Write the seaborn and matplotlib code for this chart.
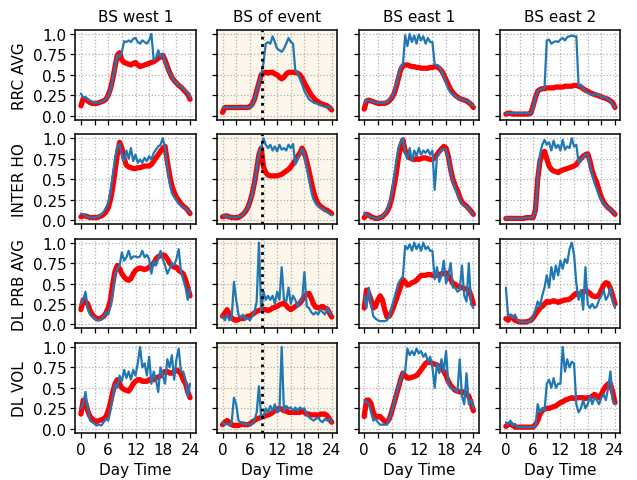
import matplotlib
matplotlib.use("Agg")
import matplotlib.pyplot as plt
import seaborn as sns
import pandas as pd

# time of day (hours), sampled every 30 min
hours = [0, 0.5, 1, 1.5, 2, 2.5, 3, 3.5, 4, 4.5, 5, 5.5,
         6, 6.5, 7, 7.5, 8, 8.5, 9, 9.5, 10, 10.5, 11, 11.5,
         12, 12.5, 13, 13.5, 14, 14.5, 15, 15.5, 16, 16.5, 17, 17.5,
         18, 18.5, 19, 19.5, 20, 20.5, 21, 21.5, 22, 22.5, 23, 23.5, 24]

stations = ["BS west 1", "BS of event", "BS east 1", "BS east 2"]
metrics = ["RRC AVG", "INTER HO", "DL PRB AVG", "DL VOL"]
event_hour = 8.6

# ---- RRC AVG ----
rrc_west1_ref = [0.12, 0.21, 0.2, 0.18, 0.16, 0.15, 0.15, 0.15, 0.16, 0.17, 0.18, 0.2,
                 0.25, 0.33, 0.45, 0.6, 0.74, 0.77, 0.68, 0.65, 0.64, 0.63, 0.62, 0.64,
                 0.65, 0.62, 0.6, 0.61, 0.62, 0.63, 0.64, 0.65, 0.66, 0.68, 0.7, 0.72,
                 0.74, 0.68, 0.6, 0.53, 0.47, 0.43, 0.4, 0.37, 0.35, 0.32, 0.29, 0.26, 0.2]
rrc_west1_obs = [0.27, 0.22, 0.23, 0.2, 0.18, 0.17, 0.16, 0.16, 0.16, 0.17, 0.18, 0.2,
                 0.24, 0.32, 0.45, 0.6, 0.74, 0.72, 0.78, 0.91, 0.9, 0.92, 0.9, 0.94,
                 0.95, 0.9, 0.88, 0.92, 0.9, 0.88, 0.92, 1.0, 0.68, 0.7, 0.8, 0.72,
                 0.75, 0.66, 0.58, 0.52, 0.48, 0.43, 0.4, 0.37, 0.36, 0.33, 0.3, 0.28, 0.22]
rrc_event_ref = [0.04, 0.1, 0.1, 0.1, 0.1, 0.1, 0.1, 0.1, 0.1, 0.1, 0.1, 0.1,
                 0.11, 0.14, 0.2, 0.3, 0.4, 0.5, 0.52, 0.53, 0.52, 0.53, 0.53, 0.51,
                 0.5, 0.47, 0.45, 0.47, 0.51, 0.53, 0.53, 0.53, 0.53, 0.52, 0.5, 0.46,
                 0.4, 0.35, 0.3, 0.25, 0.22, 0.19, 0.17, 0.15, 0.14, 0.13, 0.12, 0.1, 0.07]
rrc_event_obs = [0.1, 0.1, 0.1, 0.1, 0.1, 0.1, 0.1, 0.1, 0.1, 0.1, 0.1, 0.1,
                 0.1, 0.12, 0.2, 0.3, 0.4, 0.5, 0.65, 0.88, 0.9, 0.88, 0.97, 0.9,
                 0.82, 0.8, 0.78, 0.82, 0.88, 0.95, 0.9, 0.88, 0.55, 0.52, 0.45, 0.38,
                 0.3, 0.25, 0.2, 0.18, 0.16, 0.15, 0.14, 0.13, 0.12, 0.11, 0.11, 0.1, 0.09]
rrc_east1_ref = [0.08, 0.18, 0.19, 0.18, 0.17, 0.16, 0.15, 0.15, 0.15, 0.15, 0.16, 0.18,
                 0.21, 0.26, 0.34, 0.45, 0.56, 0.61, 0.62, 0.62, 0.61, 0.6, 0.6, 0.59,
                 0.59, 0.58, 0.58, 0.58, 0.58, 0.59, 0.59, 0.6, 0.6, 0.58, 0.55, 0.5,
                 0.44, 0.38, 0.32, 0.28, 0.25, 0.23, 0.21, 0.2, 0.19, 0.18, 0.16, 0.14, 0.1]
rrc_east1_obs = [0.15, 0.19, 0.19, 0.18, 0.17, 0.16, 0.16, 0.16, 0.16, 0.16, 0.17, 0.19,
                 0.22, 0.28, 0.36, 0.48, 0.6, 0.62, 0.98, 0.85, 1.0, 0.9, 0.98, 0.88,
                 0.99, 0.92, 0.97, 0.88, 0.95, 0.9, 0.9, 0.62, 0.62, 0.6, 0.55, 0.48,
                 0.4, 0.33, 0.28, 0.26, 0.24, 0.22, 0.21, 0.2, 0.19, 0.18, 0.17, 0.14, 0.12]
rrc_east2_ref = [0.02, 0.03, 0.03, 0.02, 0.02, 0.02, 0.02, 0.02, 0.02, 0.02, 0.02, 0.03,
                 0.12, 0.22, 0.3, 0.32, 0.33, 0.33, 0.34, 0.34, 0.34, 0.34, 0.35, 0.35,
                 0.35, 0.35, 0.36, 0.36, 0.36, 0.36, 0.37, 0.37, 0.36, 0.35, 0.33, 0.31,
                 0.3, 0.28, 0.27, 0.26, 0.25, 0.24, 0.23, 0.22, 0.21, 0.2, 0.18, 0.16, 0.1]
rrc_east2_obs = [0.03, 0.03, 0.03, 0.03, 0.03, 0.03, 0.03, 0.03, 0.03, 0.03, 0.03, 0.03,
                 0.1, 0.22, 0.3, 0.32, 0.33, 0.34, 0.92, 0.93, 0.88, 0.9, 0.91, 0.9,
                 0.93, 0.95, 0.92, 0.96, 0.97, 0.98, 0.97, 0.97, 0.36, 0.38, 0.33, 0.3,
                 0.28, 0.27, 0.25, 0.27, 0.25, 0.25, 0.22, 0.23, 0.22, 0.2, 0.18, 0.14, 0.1]

# ---- INTER HO ----
ho_west1_ref = [0.04, 0.05, 0.05, 0.04, 0.03, 0.03, 0.03, 0.03, 0.04, 0.05, 0.07, 0.1,
                0.15, 0.25, 0.4, 0.6, 0.8, 0.95, 0.88, 0.75, 0.67, 0.65, 0.64, 0.63,
                0.63, 0.64, 0.64, 0.65, 0.66, 0.66, 0.66, 0.68, 0.72, 0.76, 0.8, 0.84,
                0.88, 0.9, 0.72, 0.55, 0.42, 0.34, 0.28, 0.24, 0.2, 0.17, 0.15, 0.12, 0.08]
ho_west1_obs = [0.08, 0.07, 0.05, 0.04, 0.03, 0.03, 0.03, 0.04, 0.05, 0.07, 0.1, 0.15,
                0.2, 0.35, 0.55, 0.75, 0.9, 0.93, 0.8, 0.72, 0.85, 0.75, 0.88, 0.72,
                0.8, 0.7, 0.74, 0.7, 0.76, 0.72, 0.78, 0.74, 0.82, 0.86, 0.9, 0.92,
                1.0, 0.88, 0.65, 0.45, 0.33, 0.28, 0.24, 0.2, 0.18, 0.16, 0.14, 0.12, 0.09]
ho_event_ref = [0.04, 0.05, 0.05, 0.04, 0.03, 0.03, 0.03, 0.03, 0.05, 0.07, 0.1, 0.15,
                0.22, 0.32, 0.45, 0.62, 0.8, 0.88, 0.65, 0.58, 0.55, 0.54, 0.54, 0.54,
                0.54, 0.55, 0.56, 0.58, 0.6, 0.62, 0.65, 0.69, 0.73, 0.78, 0.82, 0.88,
                0.82, 0.72, 0.6, 0.47, 0.35, 0.26, 0.2, 0.17, 0.15, 0.13, 0.12, 0.1, 0.08]
ho_event_obs = [0.06, 0.05, 0.05, 0.04, 0.03, 0.03, 0.03, 0.04, 0.05, 0.07, 0.1, 0.15,
                0.22, 0.32, 0.45, 0.62, 0.82, 0.88, 1.0, 0.92, 0.88, 0.92, 0.85, 0.9,
                0.84, 0.92, 0.86, 0.88, 0.85, 0.92, 0.88, 0.93, 0.68, 0.74, 0.8, 0.87,
                0.8, 0.65, 0.5, 0.35, 0.25, 0.2, 0.17, 0.15, 0.14, 0.12, 0.1, 0.08, 0.06]
ho_east1_ref = [0.03, 0.07, 0.06, 0.04, 0.03, 0.02, 0.02, 0.03, 0.04, 0.07, 0.1, 0.16,
                0.25, 0.4, 0.55, 0.75, 0.9, 0.98, 0.85, 0.8, 0.76, 0.75, 0.74, 0.75,
                0.74, 0.75, 0.76, 0.76, 0.75, 0.74, 0.74, 0.76, 0.8, 0.84, 0.87, 0.9,
                0.88, 0.78, 0.62, 0.5, 0.42, 0.36, 0.28, 0.22, 0.19, 0.17, 0.14, 0.11, 0.07]
ho_east1_obs = [0.09, 0.06, 0.05, 0.04, 0.03, 0.02, 0.02, 0.03, 0.05, 0.08, 0.12, 0.2,
                0.3, 0.5, 0.7, 0.88, 0.95, 1.0, 0.82, 0.75, 0.88, 0.72, 0.85, 0.78,
                0.88, 0.8, 0.85, 0.82, 0.86, 0.8, 0.85, 0.37, 0.78, 0.82, 0.86, 0.87,
                0.86, 0.75, 0.6, 0.48, 0.38, 0.32, 0.25, 0.2, 0.18, 0.16, 0.14, 0.1, 0.07]
ho_east2_ref = [0.02, 0.02, 0.02, 0.02, 0.02, 0.02, 0.02, 0.02, 0.02, 0.03, 0.03, 0.03,
                0.03, 0.12, 0.5, 0.72, 0.8, 0.84, 0.75, 0.66, 0.62, 0.6, 0.59, 0.58,
                0.6, 0.61, 0.62, 0.63, 0.64, 0.65, 0.66, 0.68, 0.72, 0.75, 0.78, 0.8,
                0.81, 0.72, 0.6, 0.52, 0.46, 0.36, 0.28, 0.22, 0.18, 0.15, 0.13, 0.1, 0.07]
ho_east2_obs = [0.03, 0.02, 0.02, 0.02, 0.02, 0.02, 0.02, 0.02, 0.02, 0.03, 0.03, 0.03,
                0.04, 0.1, 0.5, 0.8, 0.92, 0.98, 0.92, 0.95, 0.85, 0.97, 0.88, 0.92,
                0.85, 0.98, 0.86, 0.9, 0.88, 1.0, 0.9, 0.92, 0.7, 0.74, 0.77, 0.8,
                0.8, 0.68, 0.55, 0.45, 0.38, 0.3, 0.25, 0.2, 0.17, 0.15, 0.13, 0.1, 0.07]

# ---- DL PRB AVG ----
prb_west1_ref = [0.18, 0.3, 0.28, 0.25, 0.17, 0.12, 0.09, 0.07, 0.07, 0.08, 0.1, 0.14,
                 0.2, 0.3, 0.5, 0.65, 0.72, 0.68, 0.62, 0.58, 0.55, 0.54, 0.56, 0.62,
                 0.66, 0.68, 0.69, 0.68, 0.67, 0.68, 0.7, 0.72, 0.75, 0.8, 0.83, 0.84,
                 0.85, 0.84, 0.8, 0.75, 0.72, 0.7, 0.7, 0.66, 0.64, 0.62, 0.55, 0.45, 0.35]
prb_west1_obs = [0.25, 0.3, 0.4, 0.2, 0.12, 0.1, 0.08, 0.05, 0.05, 0.06, 0.1, 0.15,
                 0.12, 0.22, 0.4, 0.6, 0.68, 0.72, 0.88, 0.78, 0.82, 0.9, 0.8, 0.83,
                 0.83, 0.82, 0.83, 0.9, 0.82, 0.85, 0.8, 0.62, 0.78, 0.72, 0.8, 0.9,
                 0.8, 0.72, 0.62, 0.68, 0.75, 0.72, 0.8, 0.92, 0.65, 0.55, 0.45, 0.3, 0.45]
prb_event_ref = [0.1, 0.14, 0.18, 0.12, 0.08, 0.06, 0.05, 0.06, 0.08, 0.07, 0.08, 0.1,
                 0.1, 0.12, 0.14, 0.16, 0.17, 0.18, 0.18, 0.18, 0.17, 0.18, 0.2, 0.21,
                 0.22, 0.24, 0.25, 0.26, 0.23, 0.2, 0.18, 0.2, 0.22, 0.24, 0.26, 0.3,
                 0.34, 0.37, 0.38, 0.32, 0.25, 0.21, 0.2, 0.21, 0.22, 0.2, 0.19, 0.14, 0.09]
prb_event_obs = [0.1, 0.05, 0.12, 0.05, 0.08, 0.52, 0.3, 0.12, 0.08, 0.12, 0.06, 0.08,
                 0.05, 0.1, 0.15, 0.28, 1.0, 0.15, 0.4, 0.3, 0.35, 0.3, 0.35, 0.25,
                 0.4, 0.3, 0.7, 0.3, 0.28, 0.45, 0.25, 0.35, 0.3, 0.22, 0.28, 0.3,
                 0.64, 0.22, 0.2, 0.15, 0.12, 0.15, 0.12, 0.18, 0.15, 0.12, 0.2, 0.15, 0.12]
prb_east1_ref = [0.2, 0.42, 0.38, 0.3, 0.2, 0.22, 0.3, 0.35, 0.3, 0.18, 0.09, 0.1,
                 0.15, 0.22, 0.3, 0.38, 0.46, 0.55, 0.52, 0.48, 0.49, 0.51, 0.52, 0.54,
                 0.57, 0.6, 0.6, 0.6, 0.61, 0.61, 0.6, 0.6, 0.6, 0.61, 0.62, 0.62,
                 0.63, 0.6, 0.55, 0.5, 0.49, 0.47, 0.46, 0.45, 0.44, 0.43, 0.42, 0.35, 0.25]
prb_east1_obs = [0.35, 0.2, 0.45, 0.25, 0.1, 0.07, 0.05, 0.04, 0.04, 0.04, 0.05, 0.1,
                 0.2, 0.3, 0.4, 0.5, 0.55, 0.58, 0.96, 0.92, 0.98, 0.9, 1.0, 0.92,
                 0.98, 0.9, 1.0, 0.92, 0.95, 0.9, 0.9, 0.55, 0.7, 0.52, 0.6, 0.78,
                 0.5, 0.6, 0.75, 0.45, 0.45, 0.4, 0.42, 0.72, 0.35, 0.28, 0.75, 0.25, 0.2]
prb_east2_ref = [0.07, 0.05, 0.1, 0.08, 0.05, 0.04, 0.03, 0.03, 0.03, 0.03, 0.04, 0.05,
                 0.08, 0.12, 0.16, 0.2, 0.22, 0.25, 0.28, 0.27, 0.28, 0.29, 0.28, 0.27,
                 0.28, 0.29, 0.3, 0.3, 0.31, 0.33, 0.36, 0.38, 0.36, 0.38, 0.4, 0.41,
                 0.4, 0.38, 0.35, 0.34, 0.34, 0.36, 0.42, 0.48, 0.51, 0.5, 0.44, 0.35, 0.25]
prb_east2_obs = [0.45, 0.1, 0.12, 0.08, 0.12, 0.06, 0.03, 0.03, 0.03, 0.03, 0.03, 0.05,
                 0.1, 0.18, 0.28, 0.22, 0.35, 0.45, 0.6, 0.45, 0.7, 0.55, 0.72, 0.6,
                 0.78, 0.68, 0.8, 0.75, 0.92, 1.0, 0.85, 0.5, 0.3, 0.42, 0.18, 0.7,
                 0.25, 0.2, 0.25, 0.2, 0.22, 0.3, 0.35, 0.42, 0.3, 0.35, 0.45, 0.3, 0.2]

# ---- DL VOL ----
vol_west1_ref = [0.18, 0.35, 0.32, 0.22, 0.15, 0.12, 0.1, 0.09, 0.1, 0.11, 0.12, 0.15,
                 0.22, 0.32, 0.45, 0.55, 0.6, 0.55, 0.5, 0.48, 0.47, 0.46, 0.5, 0.55,
                 0.58, 0.6, 0.6, 0.58, 0.58, 0.58, 0.6, 0.6, 0.6, 0.62, 0.63, 0.65,
                 0.68, 0.7, 0.7, 0.68, 0.68, 0.7, 0.72, 0.7, 0.67, 0.6, 0.55, 0.45, 0.38]
vol_west1_obs = [0.25, 0.3, 0.45, 0.25, 0.1, 0.08, 0.06, 0.04, 0.05, 0.04, 0.08, 0.12,
                 0.1, 0.22, 0.4, 0.55, 0.5, 0.65, 0.58, 0.72, 0.62, 0.7, 0.6, 0.72,
                 0.65, 0.8, 1.0, 0.75, 0.8, 0.65, 0.88, 0.55, 0.7, 0.6, 0.45, 0.75,
                 0.65, 0.55, 0.85, 0.75, 0.9, 0.6, 0.85, 0.98, 0.7, 0.7, 0.6, 0.4, 0.55]
vol_event_ref = [0.05, 0.08, 0.1, 0.08, 0.05, 0.04, 0.04, 0.04, 0.05, 0.06, 0.05, 0.05,
                 0.06, 0.08, 0.1, 0.12, 0.13, 0.14, 0.15, 0.16, 0.17, 0.18, 0.2, 0.22,
                 0.24, 0.25, 0.24, 0.22, 0.22, 0.2, 0.2, 0.2, 0.2, 0.2, 0.2, 0.22,
                 0.2, 0.18, 0.18, 0.17, 0.17, 0.17, 0.16, 0.18, 0.18, 0.18, 0.16, 0.12, 0.08]
vol_event_obs = [0.08, 0.05, 0.06, 0.04, 0.08, 0.38, 0.3, 0.1, 0.08, 0.07, 0.05, 0.06,
                 0.05, 0.06, 0.1, 0.2, 0.52, 0.12, 0.15, 0.25, 0.2, 0.28, 0.22, 0.3,
                 0.2, 0.22, 1.0, 0.22, 0.28, 0.25, 0.26, 0.22, 0.26, 0.22, 0.26, 0.24,
                 0.25, 0.18, 0.14, 0.12, 0.1, 0.12, 0.14, 0.1, 0.08, 0.12, 0.1, 0.12, 0.08]
vol_east1_ref = [0.15, 0.35, 0.35, 0.31, 0.2, 0.14, 0.15, 0.15, 0.12, 0.09, 0.08, 0.12,
                 0.2, 0.3, 0.4, 0.5, 0.6, 0.68, 0.65, 0.62, 0.62, 0.63, 0.64, 0.65,
                 0.68, 0.72, 0.76, 0.8, 0.82, 0.81, 0.8, 0.79, 0.78, 0.76, 0.74, 0.7,
                 0.65, 0.58, 0.53, 0.5, 0.47, 0.46, 0.45, 0.45, 0.45, 0.42, 0.4, 0.32, 0.22]
vol_east1_obs = [0.35, 0.33, 0.3, 0.2, 0.1, 0.12, 0.08, 0.05, 0.05, 0.05, 0.05, 0.12,
                 0.2, 0.3, 0.42, 0.52, 0.6, 0.68, 0.7, 0.98, 0.9, 0.95, 0.9, 0.98,
                 0.92, 0.95, 0.88, 0.92, 0.82, 0.88, 0.75, 0.5, 0.8, 0.68, 0.85, 0.7,
                 0.95, 0.55, 0.5, 0.48, 0.48, 0.45, 0.85, 0.4, 0.3, 0.68, 0.3, 0.35, 0.25]
vol_east2_ref = [0.03, 0.05, 0.06, 0.04, 0.02, 0.02, 0.02, 0.02, 0.02, 0.02, 0.02, 0.02,
                 0.02, 0.05, 0.1, 0.18, 0.22, 0.24, 0.25, 0.25, 0.26, 0.27, 0.28, 0.3,
                 0.32, 0.33, 0.35, 0.36, 0.37, 0.38, 0.37, 0.38, 0.38, 0.38, 0.38, 0.37,
                 0.38, 0.38, 0.4, 0.42, 0.4, 0.38, 0.42, 0.48, 0.52, 0.55, 0.55, 0.45, 0.32]
vol_east2_obs = [0.08, 0.05, 0.1, 0.04, 0.06, 0.02, 0.02, 0.02, 0.02, 0.02, 0.02, 0.02,
                 0.02, 0.02, 0.3, 0.2, 0.25, 0.22, 0.55, 0.6, 0.5, 0.62, 0.5, 0.55,
                 0.55, 1.0, 0.7, 0.85, 0.75, 0.82, 0.8, 0.3, 0.2, 0.25, 0.35, 0.25,
                 0.3, 0.4, 0.3, 0.38, 0.35, 0.3, 0.38, 0.42, 0.35, 0.5, 0.7, 0.35, 0.3]

ref_series = [
    [rrc_west1_ref, rrc_event_ref, rrc_east1_ref, rrc_east2_ref],
    [ho_west1_ref, ho_event_ref, ho_east1_ref, ho_east2_ref],
    [prb_west1_ref, prb_event_ref, prb_east1_ref, prb_east2_ref],
    [vol_west1_ref, vol_event_ref, vol_east1_ref, vol_east2_ref],
]
obs_series = [
    [rrc_west1_obs, rrc_event_obs, rrc_east1_obs, rrc_east2_obs],
    [ho_west1_obs, ho_event_obs, ho_east1_obs, ho_east2_obs],
    [prb_west1_obs, prb_event_obs, prb_east1_obs, prb_east2_obs],
    [vol_west1_obs, vol_event_obs, vol_east1_obs, vol_east2_obs],
]

sns.set_style("ticks", {"axes.grid": True, "grid.linestyle": ":", "grid.color": "#b0b0b0",
                        "axes.edgecolor": "black", "text.color": "black",
                        "xtick.color": "black", "ytick.color": "black",
                        "axes.labelcolor": "black"})
plt.rcParams["font.family"] = ["DejaVu Sans"]
plt.rcParams["font.size"] = 11

fig, axes = plt.subplots(4, 4, figsize=(6.37, 4.81), dpi=100)
plt.subplots_adjust(left=0.1185, right=0.974, bottom=0.098, top=0.936, wspace=0.18, hspace=0.16)

xtick_pos = [0, 3, 6, 9, 12, 15, 18, 21, 24]
xtick_lab = ["0", "", "6", "", "12", "", "18", "", "24"]
ytick_pos = [0, 0.25, 0.5, 0.75, 1.0]
ytick_lab = ["0.0", "0.25", "0.5", "0.75", "1.0"]

for r in range(4):
    for c in range(4):
        ax = axes[r, c]
        df = pd.DataFrame({"hour": hours, "ref": ref_series[r][c], "obs": obs_series[r][c]})
        if c == 1:
            ax.set_facecolor("#fcf7ea")
        sns.lineplot(data=df, x="hour", y="ref", ax=ax, color="red", lw=3.8)
        sns.lineplot(data=df, x="hour", y="obs", ax=ax, color="#1f77b4", lw=1.6)
        if c == 1:
            ax.axvline(event_hour, color="black", ls=":", lw=2)
        ax.set_xlim(-1.2, 25.2)
        ax.set_ylim(-0.05, 1.05)
        ax.set_xticks(xtick_pos)
        ax.set_yticks(ytick_pos)
        ax.set_xticklabels(xtick_lab if r == 3 else [""] * len(xtick_pos))
        ax.set_yticklabels(ytick_lab if c == 0 else [""] * len(ytick_pos))
        ax.grid(True, ls=":", color="#b0b0b0", lw=0.9)
        ax.tick_params(length=3.5, width=0.9, labelsize=11, pad=3)
        for sp in ax.spines.values():
            sp.set_linewidth(1.1)
        ax.set_xlabel("Day Time" if r == 3 else "", fontsize=11)
        ax.set_ylabel(metrics[r] if c == 0 else "", fontsize=11)
        if r == 0:
            ax.set_title(stations[c], fontsize=11)

fig.savefig("out.png", dpi=100)
